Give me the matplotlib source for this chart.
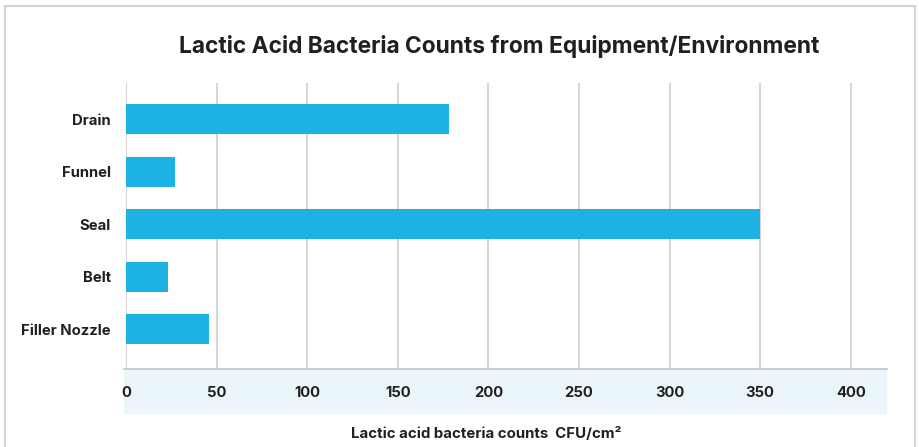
import matplotlib
matplotlib.use("Agg")
import matplotlib.pyplot as plt
from matplotlib.patches import Rectangle

categories = ["Drain", "Funnel", "Seal", "Belt", "Filler Nozzle"]
values = [178, 27, 350, 23, 46]
xticks = [0, 50, 100, 150, 200, 250, 300, 350, 400]

title = "Lactic Acid Bacteria Counts from Equipment/Environment"
xlabel = "Lactic acid bacteria counts  CFU/cm\u00b2"

W, H = 920, 447
fig = plt.figure(figsize=(W / 100, H / 100), dpi=100)
FONT = ["Inter", "DejaVu Sans"]
TXT = "#231F20"

def fx(px):
    return px / W

def fy(py):
    return 1 - py / H

# outer border (bottom edge runs off the image, as in the reference)
fig.patches.append(Rectangle((fx(4.5), fy(452)), fx(915) - fx(4.5), fy(5.5) - fy(452),
                             transform=fig.transFigure, fill=False,
                             edgecolor="#D4D4D4", linewidth=1.5, zorder=-2))
# light band behind tick labels
fig.patches.append(Rectangle((fx(124), fy(414)), fx(887) - fx(124), fy(369) - fy(414),
                             transform=fig.transFigure, facecolor="#EBF6FB",
                             edgecolor="none", zorder=-1))

ax = fig.add_axes([fx(126), fy(369), fx(887) - fx(126), fy(83) - fy(369)])
ax.patch.set_alpha(0)
ax.set_zorder(1)
pos = list(range(len(categories)))
ax.barh(pos, values, height=0.57, color="#1DB2E3", zorder=3)
ax.set_ylim(4.76, -0.686)
ax.set_xlim(0, 420)
ax.set_xticks(xticks)
ax.set_yticks(pos)
ax.set_yticklabels(categories, fontfamily=FONT, fontweight="bold", fontsize=10.7, color=TXT)
ax.set_xticklabels([str(t) for t in xticks], fontfamily=FONT, fontweight="bold",
                   fontsize=10.7, color=TXT)
ax.tick_params(axis="x", length=0, pad=12)
ax.tick_params(axis="y", length=0, pad=11)
ax.grid(axis="x", color="#D2D2D2", linewidth=1.3, zorder=0)
ax.set_axisbelow(True)
for s in ["top", "left", "right"]:
    ax.spines[s].set_visible(False)
ax.spines["bottom"].set_color("#C8C8C8")
ax.spines["bottom"].set_linewidth(1.3)
ax.spines["bottom"].set_bounds(-1, 420)

fig.text(fx(499), fy(47), title, ha="center", va="center", fontfamily=FONT,
         fontweight="bold", fontsize=16.4, color=TXT)
fig.text(fx(486), fy(434), xlabel, ha="center", va="center", fontfamily=FONT,
         fontweight="bold", fontsize=10.8, color=TXT)

fig.savefig("out.png", dpi=100)
